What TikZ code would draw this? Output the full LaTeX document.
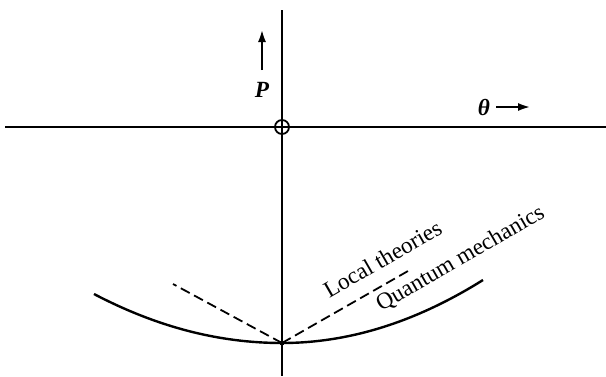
\documentclass[tikz,border=0pt]{standalone}
\usepackage{fontspec}
\setmainfont{Liberation Serif}
\usetikzlibrary{arrows.meta,positioning}

\begin{document}
\begin{tikzpicture}[x=0.5pt,y=-0.5pt, every node/.style={font=\fontsize{11.6}{14}\selectfont,inner sep=2pt}, axis/.style={line width=0.9pt}, qm/.style={line width=1.2pt}, local/.style={line width=0.9pt,dash pattern=on 5pt off 2.5pt}, curvelabel/.style={anchor=base west,rotate=30,inner sep=0pt}, >={Latex[length=6.5pt,width=4pt]}]
\useasboundingbox (0,0) rectangle (606,376);
\coordinate (ytop) at (282,10);\coordinate (ybot) at (282,376);
\coordinate (xleft) at (5,127);\coordinate (xright) at (606,127);
\node[circle,draw,line width=0.9pt,minimum size=7pt,inner sep=0pt] (origin) at (282,127) {};
\node (P) at (262,90) {\bfseries\itshape P};\coordinate (Phead) at (262,29);
\node (theta) at (484,107) {\bfseries\itshape θ};\coordinate (thetahead) at (531,107);
\node[circle,fill,inner sep=0pt,minimum size=2.5pt] (vertex) at (282,343) {};
\coordinate (qmleft) at (94,294);\coordinate (qmright) at (483,280);
\coordinate (ltleft) at (173,284);\coordinate (ltright) at (408,271);
\node[curvelabel] (ltlabel) at (329,299) {Local theories};
\node[curvelabel] (qmlabel) at (381,312) {Quantum mechanics};
\draw[axis] (ytop)--(origin.center)--(ybot);\draw[axis] (xleft)--(origin.center)--(xright);
\draw[->,line width=1.3pt,shorten <=4pt] (P)--(Phead);\draw[->,line width=1.3pt,shorten <=1pt] (theta)--(thetahead);
\draw[qm] (qmleft) .. controls (157,327) and (219,343) .. (vertex.center) .. controls (349,343) and (416,322) .. (qmright);
\draw[local] (vertex.center)--(ltleft);\draw[local] (vertex.center)--(ltright);
\end{tikzpicture}
\end{document}
